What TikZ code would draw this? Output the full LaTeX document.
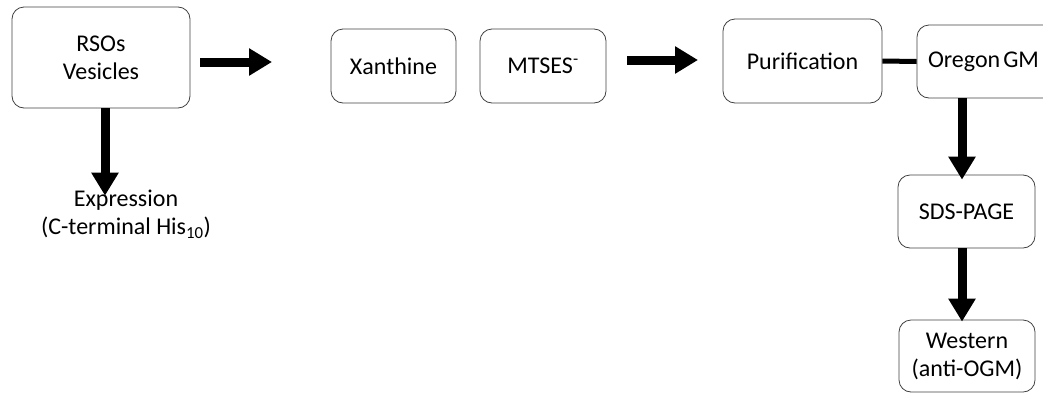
\documentclass[tikz,border=0pt]{standalone}
\usepackage{fontspec}
\setmainfont{Carlito}
\usetikzlibrary{arrows.meta}
\tikzset{box/.style={draw=black!75,line width=0.8pt,rounded corners=12pt,align=center,inner sep=0pt,font=\fontsize{24}{28}\selectfont}}
\tikzset{plain/.style={align=center,inner sep=0pt,font=\fontsize{24}{28}\selectfont}}
\tikzset{bigarrow/.style={line width=9pt,-{Triangle[length=23pt,width=26pt]}}}

\begin{document}
\begin{tikzpicture}[x=1pt,y=-1pt]
\clip (0,0) rectangle (1043,394);

\node[box,minimum width=178pt,minimum height=101pt] (rsos) at (101,57.5) {RSOs\\Vesicles};
\node[plain] (expr) at (126,214) {Expression\\(C-terminal His\textsubscript{10})};

\node[box,minimum width=125pt,minimum height=74pt] (xan) at (393.5,66) {Xanthine};
\node[box,minimum width=126pt,minimum height=74pt] (mts) at (543,66) {MTSES\textsuperscript{-}};

\node[box,minimum width=159pt,minimum height=84pt] (pur) at (802.5,61) {Purification};
\node[box,minimum width=160pt,minimum height=73pt,text width=138pt,align=left] (ogm) at (997,61.5) {Oregon\hspace{3pt}GM};

\node[box,minimum width=137pt,minimum height=73pt] (sds) at (966.5,211.5) {SDS-PAGE};
\node[box,minimum width=136pt,minimum height=72pt] (wes) at (967,356) {Western\\(anti-OGM)};

% loose arrows between the steps
\coordinate (r1) at (200,62);
\coordinate (r2) at (272,62);
\coordinate (m1) at (627,60);
\coordinate (m2) at (698,60);
\draw[bigarrow] (r1) -- (r2);
\draw[bigarrow] (m1) -- (m2);

\draw[bigarrow] ([xshift=4pt]rsos.south) -- ([xshift=-21pt,yshift=-6pt]expr.north);
\draw[line width=5pt] (pur.east) -- (ogm.west);
\draw[bigarrow] (ogm.south -| 962,0) -- ([xshift=-4.5pt,yshift=-5pt]sds.north);
\draw[bigarrow] ([xshift=-4.5pt]sds.south) -- ([xshift=-5pt,yshift=-2pt]wes.north);

\end{tikzpicture}
\end{document}
